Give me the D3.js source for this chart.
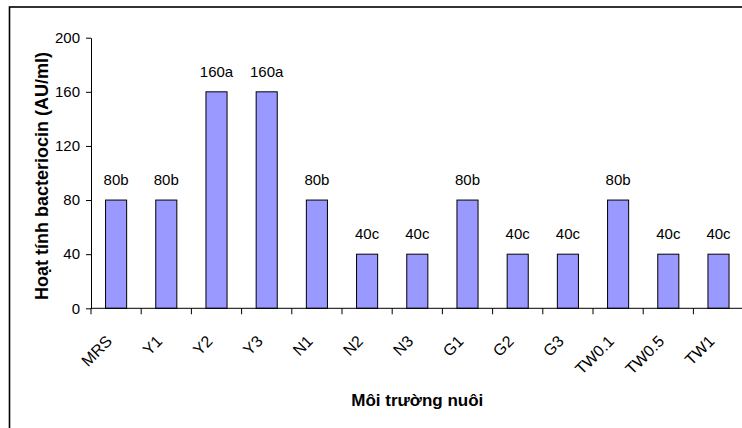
<!DOCTYPE html>
<html>
<head>
<meta charset="utf-8">
<script src="https://cdn.jsdelivr.net/npm/d3@7"></script>
<style>
  html, body { margin: 0; padding: 0; background: #fff; }
  svg { display: block; }
  text { font-family: "Liberation Sans", Arial, sans-serif; fill: #000; }
</style>
</head>
<body>
<svg id="chart" width="742" height="428"></svg>
<script>
const categories = ["MRS", "Y1", "Y2", "Y3", "N1", "N2", "N3", "G1", "G2", "G3", "TW0.1", "TW0.5", "TW1"];
const values = [80, 80, 160, 160, 80, 40, 40, 80, 40, 40, 80, 40, 40];
const letters = ["b", "b", "a", "a", "b", "c", "c", "b", "c", "c", "b", "c", "c"];
const yTicks = [0, 40, 80, 120, 160, 200];
const yTitle = "Hoạt tính bacteriocin (AU/ml)";
const xTitle = "Môi trường nuôi";

const svg = d3.select("#chart");
const plot = { left: 91, right: 743.6, top: 37.7, bottom: 308.3 };

// outer frame
svg.append("rect")
  .attr("x", 9.5).attr("y", 7).attr("width", 760).attr("height", 440)
  .attr("fill", "none").attr("stroke", "#000").attr("stroke-width", 1.6);

const x = d3.scaleBand().domain(categories)
  .range([plot.left, plot.right]).paddingInner(0.58).paddingOuter(0.29);
const y = d3.scaleLinear().domain([0, 200]).range([plot.bottom, plot.top]);

// bars
svg.append("g").selectAll("rect").data(categories).join("rect")
  .attr("x", d => x(d))
  .attr("y", (d, i) => y(values[i]))
  .attr("width", x.bandwidth())
  .attr("height", (d, i) => y(0) - y(values[i]))
  .attr("fill", "#9999FF").attr("stroke", "#000").attr("stroke-width", 1);

// value labels
svg.append("g").selectAll("text").data(categories).join("text")
  .attr("x", d => x(d) + x.bandwidth() / 2)
  .attr("y", (d, i) => y(values[i]) - 15)
  .attr("text-anchor", "middle")
  .style("font-size", "15px")
  .text((d, i) => values[i] + letters[i]);

// y axis
const yAxis = d3.axisLeft(y).tickValues(yTicks).tickSize(5).tickPadding(6).tickSizeOuter(0);
const gy = svg.append("g").attr("transform", `translate(${plot.left},0)`).call(yAxis);
gy.select(".domain").attr("stroke", "#000");
gy.selectAll(".tick line").attr("stroke", "#000");
gy.selectAll(".tick text").style("font-size", "15px").style("font-family", "Liberation Sans, Arial, sans-serif").attr("fill", "#000");

// x axis line and ticks at band boundaries
const step = x.step();
const bounds = categories.map((d, i) => plot.left + i * step).concat([plot.left + categories.length * step]);
svg.append("line").attr("x1", plot.left).attr("x2", plot.right + 2)
  .attr("y1", y(0)).attr("y2", y(0)).attr("stroke", "#000");
svg.append("g").selectAll("line").data(bounds).join("line")
  .attr("x1", d => d).attr("x2", d => d)
  .attr("y1", y(0)).attr("y2", y(0) + 6).attr("stroke", "#000");

// category labels
svg.append("g").selectAll("text").data(categories).join("text")
  .attr("transform", d => `translate(${x(d) + x.bandwidth() / 2 - 3},${y(0) + 34}) rotate(-45)`)
  .attr("text-anchor", "end")
  .style("font-size", "16px")
  .text(d => d);

// titles
svg.append("text")
  .attr("x", (plot.left + plot.right) / 2).attr("y", 406)
  .attr("text-anchor", "middle")
  .style("font-size", "17px").style("font-weight", "bold")
  .text(xTitle);

svg.append("text")
  .attr("transform", `translate(48,${(plot.top + plot.bottom) / 2 + 3}) rotate(-90)`)
  .attr("text-anchor", "middle")
  .style("font-size", "18px").style("font-weight", "bold")
  .text(yTitle);
</script>
</body>
</html>
